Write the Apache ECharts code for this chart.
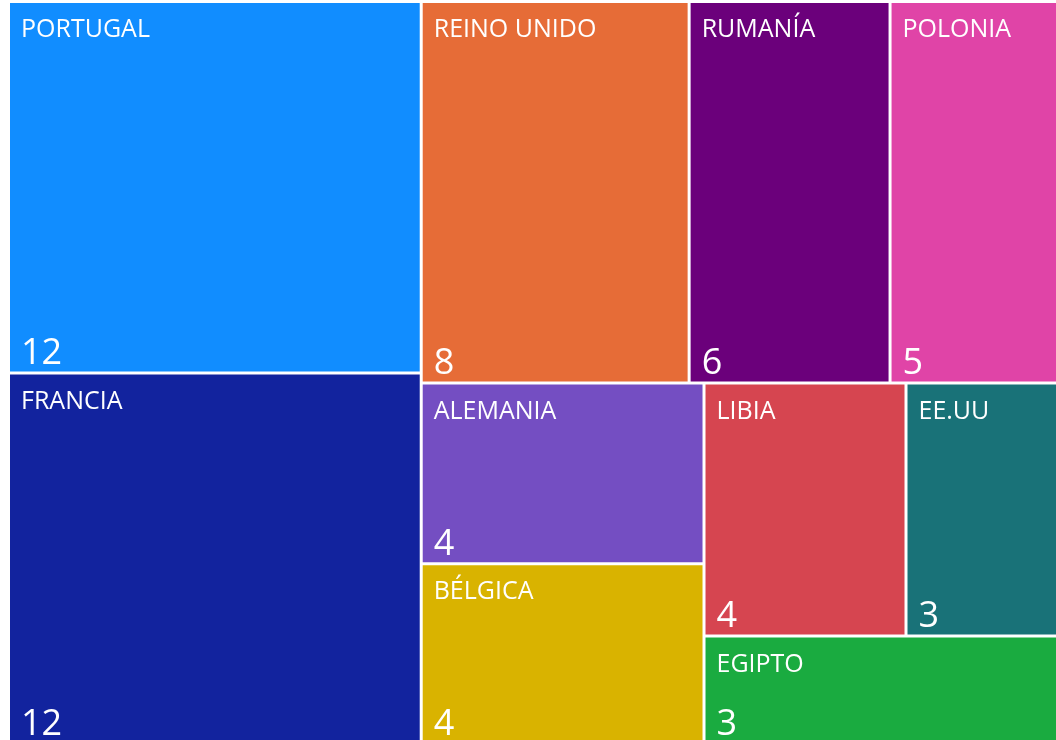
<!DOCTYPE html>
<html>
<head>
<meta charset="utf-8">
<script src="https://cdn.jsdelivr.net/npm/echarts@6/dist/echarts.min.js"></script>
<style>
  html, body { margin: 0; padding: 0; background: #fff; }
  #chart { width: 1056px; height: 740px; }
</style>
</head>
<body>
<div id="chart"></div>
<script>
// datos del gráfico
const countries = ['PORTUGAL', 'FRANCIA', 'REINO UNIDO', 'RUMANÍA', 'POLONIA', 'ALEMANIA', 'BÉLGICA', 'LIBIA', 'EE.UU', 'EGIPTO'];
const counts = [12, 12, 8, 6, 5, 4, 4, 4, 3, 3];
const colors = ['#118DFF', '#12239E', '#E66C37', '#6B007B', '#E044A7', '#744EC2', '#D9B300', '#D64550', '#197278', '#1AAB40'];

const FONT = '"Open Sans", "Noto Sans", sans-serif';
const PAD = [13, 10, 0, 11];
const NAME_LH = 28;
const VAL_LH = 36;

const treeData = countries.map((name, i) => ({
  name: name,
  value: counts[i],
  itemStyle: { color: colors[i] }
}));

const chart = echarts.init(document.getElementById('chart'), null, { renderer: 'canvas' });

const baseRich = {
  n: { fontSize: 25, lineHeight: NAME_LH, color: '#fff', fontFamily: FONT },
  v: { fontSize: 36, lineHeight: VAL_LH, color: '#fff', fontFamily: FONT }
};

chart.setOption({
  animation: false,
  series: [{
    type: 'treemap',
    left: 10,
    top: 3,
    right: 0,
    bottom: -3,
    sort: false, // los datos ya vienen ordenados
    roam: false,
    nodeClick: false,
    breadcrumb: { show: false },
    data: treeData,
    itemStyle: { gapWidth: 3, borderWidth: 0, borderColor: '#fff' },
    label: {
      show: true,
      position: 'insideTopLeft',
      distance: 0,
      padding: PAD,
      color: '#fff',
      fontFamily: FONT,
      formatter: '{n|{b}}',
      rich: baseRich
    }
  }]
});

// segundo paso: con el alto de cada rectángulo, empujar el valor hacia abajo
const data = chart.getModel().getSeriesByIndex(0).getData();
const heights = {};
chart.getModel().getSeriesByIndex(0).getViewRoot().children.forEach((node) => {
  heights[node.name] = node.getLayout().height;
});

const rich = Object.assign({}, baseRich);
data.each((idx) => {
  const h = heights[data.getName(idx)] || 0;
  const sp = Math.max(0, h - PAD[0] - PAD[2] - NAME_LH - VAL_LH);
  rich['s' + idx] = { height: sp, lineHeight: sp };
});

chart.setOption({
  series: [{
    label: {
      formatter: (p) => '{n|' + p.name + '}\n{s' + p.dataIndex + '|}\n{v|' + p.value + '}',
      rich: rich
    }
  }]
});
</script>
</body>
</html>
